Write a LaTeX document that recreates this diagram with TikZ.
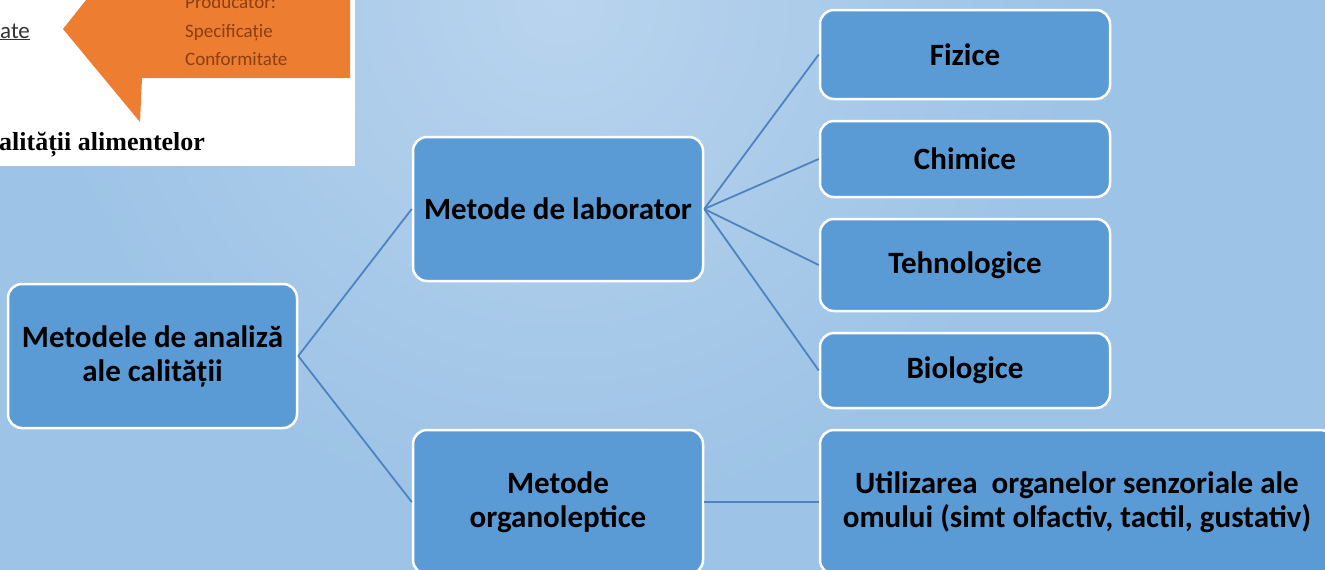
\documentclass[tikz,border=0pt]{standalone}
\usepackage{fontspec}
\setmainfont{Carlito}
\newfontfamily\panelserif{Liberation Serif}
\definecolor{bgblue}{HTML}{9DC3E6}
\definecolor{bglight}{HTML}{B9D4EE}
\definecolor{boxblue}{HTML}{5B9BD5}
\definecolor{linkblue}{HTML}{4F83BF}
\definecolor{arroworange}{HTML}{ED7D31}
\definecolor{orangetext}{HTML}{8A3F10}
\begin{document}
\begin{tikzpicture}[x=1pt,y=-1pt,
  box/.style={draw=white, line width=2.5pt, fill=boxblue, rounded corners=14pt,
    font=\bfseries\fontsize{31}{34}\selectfont, align=center, text=black, inner sep=0pt},
  link/.style={draw=linkblue, line width=1.8pt},
  paneltext/.style={inner sep=0pt, anchor=base west},
  orangelabel/.style={paneltext, font=\fontsize{19}{28}\selectfont, text=orangetext}]
\useasboundingbox (0,0) rectangle (1325,570);
\begin{scope}
\clip (0,0) rectangle (1325,570);
% background
\fill[bgblue] (0,0) rectangle (1325,570);
\shade[inner color=bglight, outer color=bgblue] (560,0) circle (520);
% top-left panel
\fill[white] (0,0) rectangle (355,166);
\fill[arroworange] (63,29) -- (86,0) -- (350,0) -- (350,78) -- (142,78) -- (140,122) -- cycle;
\node[orangelabel] (p1) at (185,9) {Producator:};
\node[orangelabel] (p2) at (185,37) {Specificație};
\node[orangelabel] (p3) at (185,65) {Conformitate};
\node[paneltext, font=\fontsize{23}{26}\selectfont, text=black!80] (p4) at (0,38) {\underline{ate}};
\node[paneltext, font=\panelserif\bfseries\fontsize{26}{30}\selectfont] (p5) at (-1,150) {alității alimentelor};
% nodes
\node[box, minimum width=289, minimum height=144] (a) at (152.5,356) {Metodele de analiză\\ale calității};
\node[box, minimum width=290, minimum height=144] (b) at (558,209) {Metode de laborator};
\node[box, minimum width=290, minimum height=144] (c) at (558,502) {Metode\\organoleptice};
\node[box, minimum width=290, minimum height=89] (f) at (965,54.5) {Fizice};
\node[box, minimum width=290, minimum height=76] (ch) at (965,159) {Chimice};
\node[box, minimum width=290, minimum height=92] (t) at (965,265) {Tehnologice};
\node[box, minimum width=290, minimum height=75] (bi) at (965,370.5) {Biologice};
\node[box, minimum width=514, minimum height=144] (u) at (1077,502) {Utilizarea\ \ organelor senzoriale ale\\omului (simt olfactiv, tactil, gustativ)};
% connectors
\draw[link] (a.east) -- (b.west);
\draw[link] (a.east) -- (c.west);
\draw[link] (b.east) -- (f.west);
\draw[link] (b.east) -- (ch.west);
\draw[link] (b.east) -- (t.west);
\draw[link] (b.east) -- (bi.west);
\draw[link] (c.east) -- (u.west);
\end{scope}
\end{tikzpicture}
\end{document}
